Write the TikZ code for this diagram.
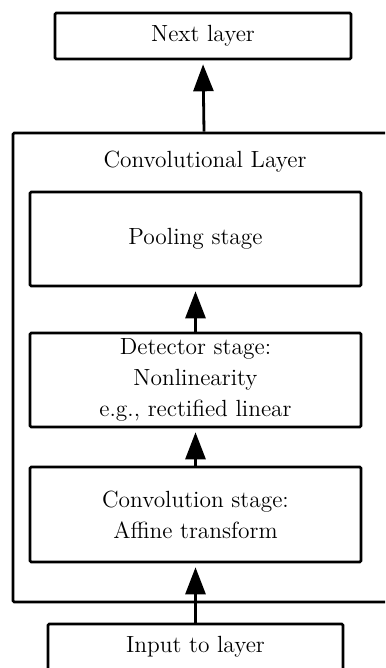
\documentclass[tikz,border=0pt]{standalone}
\usepackage{tikz}
\usetikzlibrary{arrows.meta}

\tikzset{
  stagebox/.style={draw, line width=1.3pt, rounded corners=0.6pt, align=center,
                   inner sep=0pt},
  flow/.style={-{Triangle[length=13.5pt, width=10pt]}, line width=1.4pt,
               shorten >=2pt}
}

\begin{document}
\begin{tikzpicture}[x=0.5pt, y=-0.5pt, font=\fontsize{11.7}{15.5}\selectfont]
  \clip (0,0) rectangle (385,668);
  % outer layer and title
  \node[stagebox, minimum width=191pt, minimum height=234.5pt] (layer) at (204,367.5){};
  \node (title) at (205,162){Convolutional Layer};
  % boxes
  \node[stagebox, minimum width=148pt, minimum height=23pt] (next) at (203,36){Next layer};
  \node[stagebox, minimum width=165.5pt, minimum height=47pt] (pool) at (195.5,239){Pooling stage};
  \node[stagebox, minimum width=165.5pt, minimum height=47pt] (det) at (195.5,380){Detector stage:\\Nonlinearity\\e.g., rectified linear};
  \node[stagebox, minimum width=165.5pt, minimum height=47.5pt] (conv) at (195.5,514.5){Convolution stage:\\Affine transform};
  \node[stagebox, minimum width=147.5pt, minimum height=23pt] (input) at (195.5,647){Input to layer};
  % arrows
  \draw[flow] (input.north) -- (conv.south);
  \draw[flow] (conv.north) -- (det.south);
  \draw[flow] (det.north) -- (pool.south);
  \draw[flow] (layer.north) -- (next.south);
\end{tikzpicture}
\end{document}
